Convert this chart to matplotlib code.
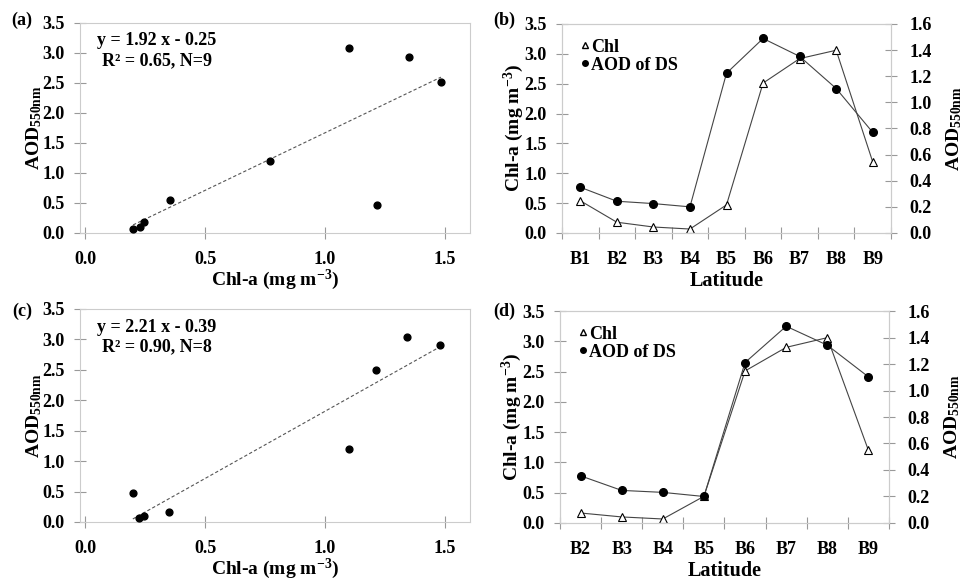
import matplotlib
matplotlib.use("Agg")
import matplotlib.pyplot as plt
from matplotlib.lines import Line2D
import numpy as np

plt.rcParams["font.family"] = ["Liberation Serif", "DejaVu Serif"]
plt.rcParams["font.weight"] = "bold"
plt.rcParams["axes.labelweight"] = "bold"
plt.rcParams["mathtext.default"] = "regular"

# scatter (a): 9 points
a_x = [0.20, 0.23, 0.246, 0.354, 0.771, 1.10, 1.215, 1.349, 1.483]
a_y = [0.07, 0.095, 0.18, 0.55, 1.20, 3.08, 0.47, 2.94, 2.52]
a_fit = (1.92, -0.25)
a_text = "y = 1.92 x - 0.25\nR² = 0.65, N=9"

# scatter (c): 8 points
c_x = [0.199, 0.224, 0.246, 0.35, 1.099, 1.211, 1.343, 1.48]
c_y = [0.48, 0.066, 0.093, 0.165, 1.20, 2.50, 3.04, 2.91]
c_fit = (2.21, -0.39)
c_text = "y = 2.21 x - 0.39\nR² = 0.90, N=8"

# line panel (b)
b_cats = ["B1", "B2", "B3", "B4", "B5", "B6", "B7", "B8", "B9"]
b_chl = [0.54, 0.18, 0.10, 0.066, 0.47, 2.51, 2.92, 3.06, 1.19]
b_aod = [0.35, 0.243, 0.225, 0.20, 1.223, 1.489, 1.352, 1.106, 0.77]

# line panel (d)
d_cats = ["B2", "B3", "B4", "B5", "B6", "B7", "B8", "B9"]
d_chl = [0.165, 0.10, 0.066, 0.44, 2.51, 2.90, 3.06, 1.20]
d_aod = [0.356, 0.246, 0.231, 0.20, 1.211, 1.485, 1.342, 1.103]

SPINE = "#cccccc"
TICK = "#999999"
TK = 13
LB = 14


def style(ax):
    for s in ax.spines.values():
        s.set_color(SPINE)
    ax.tick_params(direction="inout", length=8, color=TICK, labelsize=TK)
    ax.tick_params(axis="y", pad=7)
    ax.tick_params(axis="x", pad=9)


def scatter_panel(ax, xs, ys, fit, text):
    style(ax)
    ax.scatter(xs, ys, s=24, color="black", zorder=3)
    xx = np.array([min(xs), max(xs)])
    ax.plot(xx, fit[0] * xx + fit[1], color="#555555", lw=0.8,
            linestyle=(0, (3, 2)))
    ax.set_xlim(-0.021, 1.604)
    ax.set_ylim(0, 3.5)
    ax.set_xticks([0, 0.5, 1.0, 1.5])
    ax.set_xticklabels(["0.0", "0.5", "1.0", "1.5"])
    ax.set_yticks(np.arange(0, 3.51, 0.5))
    ax.set_yticklabels([f"{v:.1f}" for v in np.arange(0, 3.51, 0.5)])
    ax.set_xlabel("Chl-a (mg m$^{-3}$)", fontsize=LB, labelpad=0)
    ax.set_ylabel("AOD$_{550nm}$", fontsize=LB, labelpad=-1)
    ax.text(0.197, 0.955, text, transform=ax.transAxes, ha="center",
            va="top", multialignment="center", fontsize=13, linespacing=1.2)


def line_panel(ax, cats, chl, aod):
    style(ax)
    pos = np.arange(1, len(cats) + 1)
    ax.plot(pos, chl, color="#444444", lw=0.8, marker="^", markersize=5.5,
            markerfacecolor="white", markeredgecolor="black",
            markeredgewidth=0.8)
    ax.set_xlim(0.5, len(cats) + 0.5)
    ax.set_ylim(0, 3.5)
    ax.set_yticks(np.arange(0, 3.51, 0.5))
    ax.set_yticklabels([f"{v:.1f}" for v in np.arange(0, 3.51, 0.5)])
    ax.set_xticks(np.arange(0.5, len(cats) + 0.6, 1.0))
    ax.set_xticklabels([])
    ax.set_xticks(pos, minor=True)
    ax.set_xticklabels(cats, minor=True)
    ax.tick_params(axis="x", which="minor", length=0, labelsize=TK, pad=13)
    ax.set_xlabel("Latitude", fontsize=LB + 0.5, labelpad=2)
    ax.set_ylabel("Chl-a (mg m$^{-3}$)", fontsize=LB, labelpad=-1)

    ax2 = ax.twinx()
    style(ax2)
    ax2.tick_params(axis="y", pad=9)
    ax2.plot(pos, aod, color="#444444", lw=0.8, marker="o", markersize=5.5,
             markerfacecolor="black", markeredgecolor="black")
    ax2.set_ylim(0, 1.6)
    ax2.set_yticks(np.arange(0, 1.61, 0.2))
    ax2.set_yticklabels([f"{v:.1f}" for v in np.arange(0, 1.61, 0.2)])
    ax2.set_ylabel("AOD$_{550nm}$", fontsize=LB, labelpad=9)

    handles = [
        Line2D([], [], linestyle="none", marker="^", markersize=4,
               markerfacecolor="white", markeredgecolor="black"),
        Line2D([], [], linestyle="none", marker="o", markersize=4,
               markerfacecolor="black", markeredgecolor="black"),
    ]
    ax.legend(handles, ["Chl", "AOD of DS"], loc="upper left", frameon=False,
              fontsize=13, handlelength=0.4, handletextpad=0.15,
              labelspacing=0.05, borderaxespad=0.3,
              bbox_to_anchor=(0.02, 0.99))


fig = plt.figure(figsize=(9.62, 5.82), dpi=100)
ax_a = fig.add_axes([0.0832, 0.5997, 0.4054, 0.3608])
ax_b = fig.add_axes([0.5842, 0.5997, 0.342, 0.3591])
ax_c = fig.add_axes([0.0832, 0.1031, 0.4054, 0.366])
ax_d = fig.add_axes([0.5821, 0.1014, 0.342, 0.3642])

scatter_panel(ax_a, a_x, a_y, a_fit, a_text)
scatter_panel(ax_c, c_x, c_y, c_fit, c_text)
line_panel(ax_b, b_cats, b_chl, b_aod)
line_panel(ax_d, d_cats, d_chl, d_aod)

for lab, x, y in [("(a)", 11, 20), ("(b)", 493, 20), ("(c)", 12, 311),
                  ("(d)", 493, 311)]:
    fig.text(x / 962, 1 - y / 582, lab, fontsize=13, ha="left", va="center")

fig.savefig("out.png", dpi=100)
